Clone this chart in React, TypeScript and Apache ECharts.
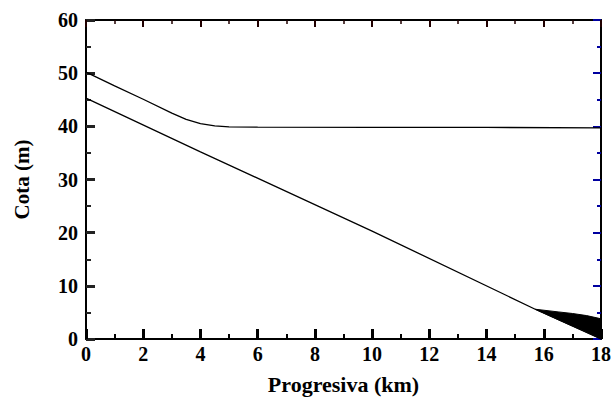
import React, { useEffect, useRef } from "react";
import * as echarts from "echarts";

const upperLine: [number, number][] = [
  [0, 50.2], [1, 47.6], [2, 45.1], [3, 42.5], [3.5, 41.3], [4, 40.5], [4.5, 40.1],
  [5, 39.9], [6, 39.85], [10, 39.8], [14, 39.8], [18, 39.7],
];
const lowerLine: [number, number][] = [
  [0, 45.3], [4, 35.2], [10, 20.3], [15.7, 5.6], [18, 0.0],
];
// wedge between the lower line (bottom) and its upper edge
const wedgeX = [15.7, 16.5, 17, 17.5, 18];
const wedgeBottom = [5.6, 3.65, 2.45, 1.25, 0.0];
const wedgeTop = [5.6, 5.1, 4.8, 4.4, 3.8];

const FONT = "Liberation Serif";

export default function App() {
  const ref = useRef<HTMLDivElement>(null);
  useEffect(() => {
    if (!ref.current) return;
    const chart = echarts.init(ref.current, undefined, { renderer: "svg" });
    const wedgeData = wedgeX.map((x, i) => [x, wedgeTop[i], wedgeBottom[i]]);
    chart.setOption({
      animation: false,
      backgroundColor: "#fff",
      grid: { left: 86, right: 9, top: 20, bottom: 63, containLabel: false },
      xAxis: [
        {
          type: "value", position: "bottom", min: 0, max: 18, interval: 2,
          axisLine: { show: true, onZero: false, lineStyle: { color: "#000", width: 2 } },
          axisTick: { show: true, inside: true, length: 10, lineStyle: { color: "#000", width: 3 } },
          minorTick: { show: true, splitNumber: 2, length: 5, lineStyle: { color: "#000", width: 2 } },
          splitLine: { show: false },
          name: "Progresiva (km)", nameLocation: "middle", nameGap: 34,
          nameTextStyle: { fontFamily: FONT, fontWeight: "bold", fontSize: 22, color: "#000" },
          axisLabel: { fontFamily: FONT, fontWeight: "bold", fontSize: 20, color: "#000", margin: 5 },
        },
        {
          type: "value", position: "top", min: 0, max: 18, interval: 2,
          axisLine: { show: true, onZero: false, lineStyle: { color: "#000", width: 2 } },
          axisTick: { show: true, inside: true, length: 7, lineStyle: { color: "#200000", width: 2 } },
          minorTick: { show: true, splitNumber: 2, length: 4, lineStyle: { color: "#200000", width: 1.5 } },
          splitLine: { show: false },
          axisLabel: { show: false },
        },
      ],
      yAxis: [
        {
          type: "value", position: "left", min: 0, max: 60, interval: 10,
          axisLine: { show: true, onZero: false, lineStyle: { color: "#000", width: 2 } },
          axisTick: { show: true, inside: true, length: 9, lineStyle: { color: "#222", width: 3 } },
          minorTick: { show: true, splitNumber: 2, length: 5, lineStyle: { color: "#222", width: 2 } },
          splitLine: { show: false },
          name: "Cota (m)", nameLocation: "middle", nameGap: 54,
          nameTextStyle: { fontFamily: FONT, fontWeight: "bold", fontSize: 21, color: "#000" },
          axisLabel: { fontFamily: FONT, fontWeight: "bold", fontSize: 20, color: "#000", margin: 8 },
        },
        {
          type: "value", position: "right", min: 0, max: 60, interval: 10,
          axisLine: { show: true, onZero: false, lineStyle: { color: "#000", width: 2 } },
          axisTick: { show: true, inside: true, length: 8, lineStyle: { color: "#0000a0", width: 2 } },
          minorTick: { show: true, splitNumber: 2, length: 4, lineStyle: { color: "#0000a0", width: 2 } },
          splitLine: { show: false },
          axisLabel: { show: false },
        },
      ],
      series: [
        {
          type: "line", data: upperLine, symbol: "none", xAxisIndex: 0, yAxisIndex: 0,
          lineStyle: { color: "#000", width: 1.3 },
        },
        {
          type: "line", data: lowerLine, symbol: "none", xAxisIndex: 0, yAxisIndex: 0,
          lineStyle: { color: "#000", width: 1.3 },
        },
        {
          type: "custom", xAxisIndex: 0, yAxisIndex: 0,
          data: wedgeData,
          encode: { x: 0, y: [1, 2] },
          renderItem: (params: any, api: any) => {
            if (params.dataIndex !== 0) return { type: "group", children: [] };
            const top = wedgeData.map((d) => api.coord([d[0], d[1]]));
            const bottom = wedgeData.map((d) => api.coord([d[0], d[2]])).reverse();
            return {
              type: "polygon",
              shape: { points: top.concat(bottom) },
              style: { fill: "#000", stroke: "#000", lineWidth: 1 },
            };
          },
        },
      ],
    });
    return () => chart.dispose();
  }, []);
  return <div ref={ref} style={{ width: 614, height: 402, position: "absolute", left: 0, top: 0 }} />;
}
